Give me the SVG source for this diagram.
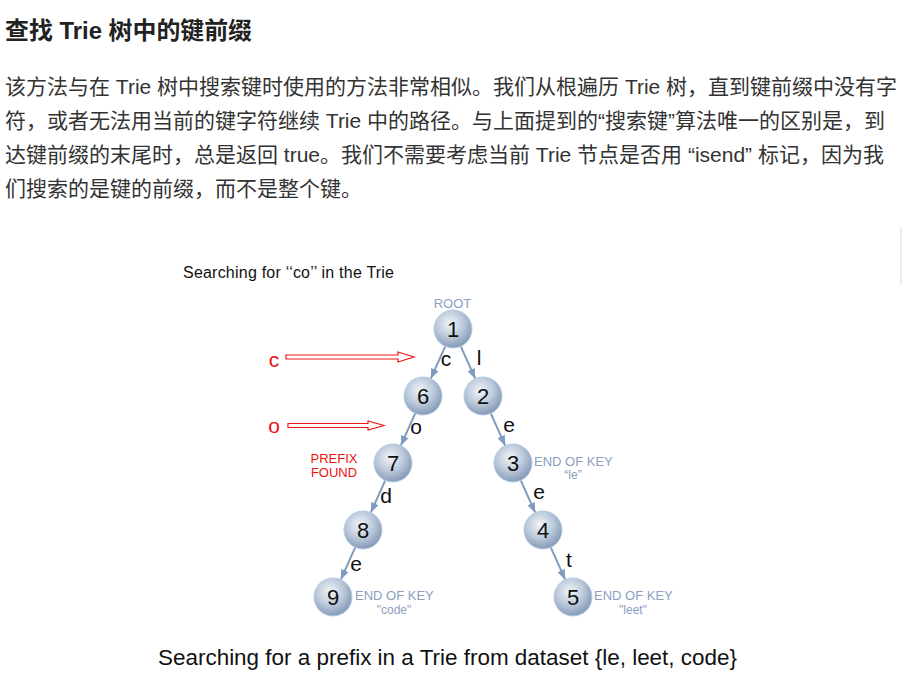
<svg xmlns="http://www.w3.org/2000/svg" width="902" height="681" viewBox="0 0 902 681">
<style>
.hd{font-family:"Liberation Sans","Noto Sans CJK SC",sans-serif;font-size:24px;font-weight:bold;fill:#222}
.p{font-family:"Liberation Sans","Noto Sans CJK SC",sans-serif;font-size:21px;fill:#333}
.t{font-family:"Liberation Sans",Arial,sans-serif}
.num{font-family:"Liberation Sans",Arial,sans-serif;font-size:22px;fill:#111;text-anchor:middle}
.lbl{font-family:"Liberation Sans",Arial,sans-serif;font-size:21px;fill:#111;text-anchor:middle}
.key{font-family:"Liberation Sans",Arial,sans-serif;font-size:13px;fill:#8ba0c0}
.q{font-family:"Liberation Sans",Arial,sans-serif;font-size:12px;fill:#8ba0c0;text-anchor:middle}
.red{font-family:"Liberation Sans",Arial,sans-serif;fill:#f01010}
.edge{stroke:#7f9bc0;stroke-width:2;fill:none;marker-end:url(#ah)}
.harrow{fill:#fff;stroke:#f01818;stroke-width:1.2}
.ball{fill:url(#sph);stroke:#b4cbe6;stroke-width:1}
</style>
<defs>
<radialGradient id="sph" cx="0.42" cy="0.36" r="0.7">
<stop offset="0" stop-color="#f2f5f9"/>
<stop offset="0.5" stop-color="#bccadb"/>
<stop offset="1" stop-color="#7a90ae"/>
</radialGradient>
<marker id="ah" markerUnits="userSpaceOnUse" markerWidth="10" markerHeight="8" refX="10" refY="4" orient="auto">
<path d="M0,0 L10,4 L0,8 z" fill="#7f9bc0"/>
</marker>
</defs>
<rect width="902" height="681" fill="#fff"/>
<rect x="900" y="227" width="2" height="58" fill="#eceef2"/>

<text class="hd" x="5" y="39" textLength="247" lengthAdjust="spacingAndGlyphs">查找 Trie 树中的键前缀</text>
<text class="p" x="5" y="94">该方法与在 Trie 树中搜索键时使用的方法非常相似。我们从根遍历 Trie 树，直到键前缀中没有字</text>
<text class="p" x="5" y="128">符，或者无法用当前的键字符继续 Trie 中的路径。与上面提到的“搜索键”算法唯一的区别是，到</text>
<text class="p" x="5" y="162">达键前缀的末尾时，总是返回 true。我们不需要考虑当前 Trie 节点是否用 “isend” 标记，因为我</text>
<text class="p" x="5" y="196">们搜索的是键的前缀，而不是整个键。</text>

<text class="t" x="183" y="278" font-size="16" fill="#111" textLength="211" lengthAdjust="spacing">Searching for ‘‘co’’ in the Trie</text>

<g id="connectors">
<line class="edge" x1="445.2" y1="346.3" x2="430.8" y2="378.7"/>
<line class="edge" x1="460.8" y1="346.3" x2="475.2" y2="378.7"/>
<line class="edge" x1="415.2" y1="413.3" x2="400.8" y2="445.7"/>
<line class="edge" x1="490.8" y1="413.3" x2="505.2" y2="445.7"/>
<line class="edge" x1="385.2" y1="480.3" x2="370.8" y2="512.7"/>
<line class="edge" x1="520.8" y1="480.3" x2="535.2" y2="512.7"/>
<line class="edge" x1="355.2" y1="547.3" x2="340.8" y2="579.7"/>
<line class="edge" x1="550.8" y1="547.3" x2="565.2" y2="579.7"/>
<text class="lbl" x="446" y="366">c</text>
<text class="lbl" x="479" y="365">l</text>
<text class="lbl" x="416" y="434">o</text>
<text class="lbl" x="509" y="432">e</text>
<text class="lbl" x="386" y="503">d</text>
<text class="lbl" x="539" y="499">e</text>
<text class="lbl" x="356" y="571">e</text>
<text class="lbl" x="569" y="567">t</text>
</g>

<g id="pointer-c">
<text class="red" x="274" y="367" font-size="21" text-anchor="middle">c</text>
<path class="harrow" d="M286,355 H398 V352 L414,357 L398,362 V359 H286 Z"/>
</g>
<g id="pointer-o">
<text class="red" x="274" y="433" font-size="21" text-anchor="middle">o</text>
<path class="harrow" d="M288,423.5 H368 V421 L384,425.5 L368,430 V427.5 H288 Z"/>
</g>

<g id="node1"><text class="key" x="452.5" y="308" font-size="12" text-anchor="middle">ROOT</text><circle class="ball" cx="453" cy="329" r="19"/><text class="num" x="453" y="337">1</text></g>
<g id="node6"><circle class="ball" cx="423" cy="396" r="19"/><text class="num" x="423" y="404">6</text></g>
<g id="node2"><circle class="ball" cx="483" cy="396" r="19"/><text class="num" x="483" y="404">2</text></g>
<g id="node7"><circle class="ball" cx="393" cy="463" r="19"/><text class="num" x="393" y="471">7</text>
<text class="red" x="334" y="463" font-size="13" text-anchor="middle">PREFIX</text><text class="red" x="334" y="477" font-size="13" text-anchor="middle">FOUND</text></g>
<g id="node3"><circle class="ball" cx="513" cy="463" r="19"/><text class="num" x="513" y="471">3</text>
<text class="key" x="534" y="466">END OF KEY</text><text class="q" x="573" y="479">“le”</text></g>
<g id="node8"><circle class="ball" cx="363" cy="530" r="19"/><text class="num" x="363" y="538">8</text></g>
<g id="node4"><circle class="ball" cx="543" cy="530" r="19"/><text class="num" x="543" y="538">4</text></g>
<g id="node9"><circle class="ball" cx="333" cy="597" r="19"/><text class="num" x="333" y="605">9</text>
<text class="key" x="355" y="600">END OF KEY</text><text class="q" x="394" y="614">"code"</text></g>
<g id="node5"><circle class="ball" cx="573" cy="597" r="19"/><text class="num" x="573" y="605">5</text>
<text class="key" x="594" y="600">END OF KEY</text><text class="q" x="633" y="614">"leet"</text></g>

<text class="t" x="158" y="665" font-size="22" fill="#111" textLength="579" lengthAdjust="spacingAndGlyphs">Searching for a prefix in a Trie from dataset {le, leet, code}</text>
</svg>
